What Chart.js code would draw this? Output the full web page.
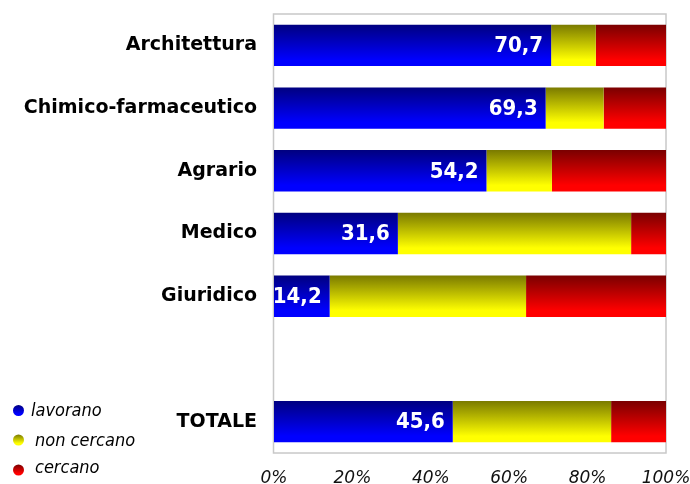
<!DOCTYPE html>
<html>
<head>
<meta charset="utf-8">
<script src="https://cdn.jsdelivr.net/npm/chart.js@4/dist/chart.umd.min.js"></script>
<style>
  html, body { margin: 0; padding: 0; background: #fff; }
  #wrap { width: 690px; height: 484px; position: relative; }
</style>
</head>
<body>
<div id="wrap"><canvas id="chart"></canvas></div>
<script>
// categories (the empty one is the gap before TOTALE)
const categories = ['Architettura', 'Chimico-farmaceutico', 'Agrario', 'Medico', 'Giuridico', '', 'TOTALE'];
const lavorano   = [70.7, 69.3, 54.2, 31.6, 14.2, null, 45.6];
const nonCercano = [11.4, 14.8, 16.7, 59.5, 50.1, null, 40.4];
const cercano    = [17.9, 15.9, 29.1,  8.9, 35.7, null, 14.0];
const seriesNames = ['lavorano', 'non cercano', 'cercano'];
const xTicks = [0, 20, 40, 60, 80, 100];

const FONT = '"DejaVu Sans", Verdana, sans-serif';
const FONT_COND = '"DejaVu Sans Condensed", "DejaVu Sans", sans-serif';
const CAT_PCT = 0.66;

// vertical gradient per bar: dark on top, bright at bottom
const barGradient = (dark, bright) => (ctx) => {
    const chart = ctx.chart;
    const area = chart.chartArea;
    if (!area || ctx.type !== 'data') return bright;
    const yScale = chart.scales.y;
    const yc = yScale.getPixelForValue(ctx.dataIndex);
    const half = (yScale.height / categories.length) * CAT_PCT / 2;
    const g = chart.ctx.createLinearGradient(0, yc - half, 0, yc + half);
    g.addColorStop(0, dark);
    g.addColorStop(0.85, bright);
    g.addColorStop(1, bright);
    return g;
};

const palette = [
    ['#000080', '#0000ff'],
    ['#7a7a00', '#ffff00'],
    ['#7a0000', '#ff0000']
];

// frame round the plot area
const framePlugin = {
    id: 'frame',
    beforeDatasetsDraw(chart) {
        const { ctx, chartArea: a } = chart;
        ctx.save();
        ctx.strokeStyle = '#c8c8c8';
        ctx.lineWidth = 1.5;
        ctx.strokeRect(a.left - 0.5, a.top, a.right - a.left + 0.5, a.bottom - a.top);
        ctx.restore();
    }
};

// white value labels at the end of the blue bars
const valueLabels = {
    id: 'valueLabels',
    afterDatasetsDraw(chart) {
        const { ctx } = chart;
        const meta = chart.getDatasetMeta(0);
        ctx.save();
        ctx.fillStyle = '#ffffff';
        ctx.font = 'bold 22px ' + FONT_COND;
        ctx.textAlign = 'right';
        ctx.textBaseline = 'middle';
        meta.data.forEach((bar, i) => {
            const v = lavorano[i];
            if (v == null) return;
            ctx.fillText(v.toFixed(1).replace('.', ','), bar.x - 8, bar.y + 1);
        });
        ctx.restore();
    }
};

// legend drawn in the bottom-left corner
const cornerLegend = {
    id: 'cornerLegend',
    afterDraw(chart) {
        const { ctx } = chart;
        const rows = [
            { y: 411, dy: 410.5, tx: 31 },
            { y: 441, dy: 440, tx: 35 },
            { y: 468, dy: 470, tx: 35 }
        ];
        ctx.save();
        rows.forEach((r, i) => {
            const g = ctx.createLinearGradient(0, r.dy - 5.5, 0, r.dy + 5.5);
            g.addColorStop(0, palette[i][0]);
            g.addColorStop(0.8, palette[i][1]);
            ctx.beginPath();
            ctx.arc(18.5, r.dy, 5.5, 0, Math.PI * 2);
            ctx.fillStyle = g;
            ctx.fill();
            ctx.fillStyle = '#000';
            ctx.font = 'italic 18px ' + FONT_COND;
            ctx.textAlign = 'left';
            ctx.textBaseline = 'middle';
            ctx.fillText(seriesNames[i], r.tx, r.y);
        });
        ctx.restore();
    }
};

new Chart(document.getElementById('chart'), {
    type: 'bar',
    data: {
        labels: categories,
        datasets: [lavorano, nonCercano, cercano].map((d, i) => ({
            label: seriesNames[i],
            data: d,
            backgroundColor: barGradient(palette[i][0], palette[i][1]),
            borderWidth: 0,
            barPercentage: 1,
            categoryPercentage: CAT_PCT
        }))
    },
    options: {
        indexAxis: 'y',
        responsive: true,
        maintainAspectRatio: false,
        animation: false,
        layout: { padding: { top: 14, right: 24, left: 0, bottom: 0 } },
        plugins: {
            legend: { display: false },
            tooltip: { enabled: false }
        },
        scales: {
            x: {
                stacked: true,
                min: 0,
                max: 100,
                afterBuildTicks: (scale) => { scale.ticks = xTicks.map(v => ({ value: v })); },
                afterFit: (scale) => {
                    scale.height = 31;
                    scale.paddingLeft = 0;
                    scale.paddingRight = 0;
                },
                grid: { display: false, drawTicks: false },
                border: { display: false },
                ticks: {
                    padding: 15,
                    color: '#111',
                    font: { family: FONT, size: 17, style: 'italic' },
                    callback: (v) => v + '%'
                }
            },
            y: {
                stacked: true,
                afterFit: (scale) => {
                    scale.width = 274;
                    scale.paddingTop = 0;
                    scale.paddingBottom = 0;
                },
                grid: { display: false, drawTicks: false },
                border: { display: false },
                ticks: {
                    padding: 17,
                    color: '#000',
                    font: { family: FONT, size: 19, weight: 'bold' }
                }
            }
        }
    },
    plugins: [framePlugin, valueLabels, cornerLegend]
});
</script>
</body>
</html>
